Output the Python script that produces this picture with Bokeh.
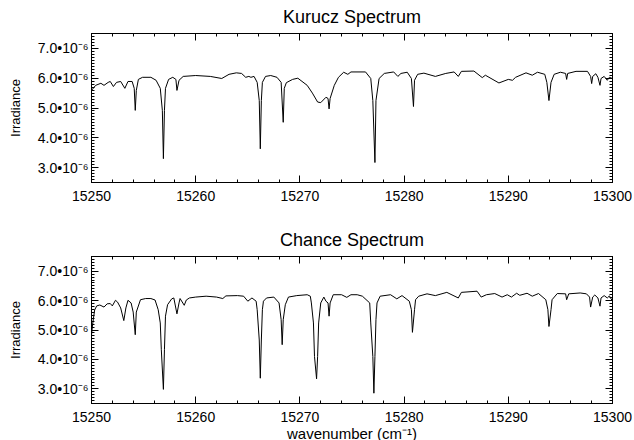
import numpy as np
from bokeh.plotting import figure
from bokeh.layouts import column
from bokeh.models import (ColumnDataSource, LinearAxis, SingleIntervalTicker,
                          CustomJSTickFormatter, CustomLabelingPolicy, Range1d)
from bokeh.embed import file_html
from bokeh.resources import INLINE

# ---- data (irradiance in units of 1e-6) ----
kurucz_wn = [15250.0, 15250.4, 15250.9, 15251.2, 15251.6, 15251.8, 15252.1, 15252.4, 15252.8, 15253.2,
             15253.5, 15253.9, 15254.1, 15254.2, 15254.3, 15254.5, 15254.9, 15255.7, 15256.2, 15256.6,
             15256.8, 15256.9, 15257.0, 15257.1, 15257.4, 15257.8, 15258.1, 15258.2, 15258.4, 15258.8,
             15260.0, 15261.4, 15262.5, 15263.2, 15263.9, 15264.4, 15264.8, 15265.1, 15265.3, 15265.6,
             15265.9, 15266.1, 15266.2, 15266.3, 15266.4, 15266.7, 15267.2, 15267.8, 15268.2, 15268.4,
             15268.5, 15268.7, 15269.3, 15269.8, 15270.7, 15271.2, 15271.7, 15272.0, 15272.5, 15272.7,
             15272.8, 15272.9, 15273.3, 15273.7, 15274.2, 15274.6, 15274.9, 15276.3, 15276.8, 15277.0,
             15277.2, 15277.3, 15277.6, 15278.1, 15279.0, 15279.4, 15279.7, 15280.3, 15280.7, 15280.9,
             15281.0, 15281.3, 15281.9, 15283.0, 15284.0, 15284.8, 15285.2, 15285.5, 15286.7, 15287.5,
             15287.8, 15289.1, 15290.0, 15290.4, 15290.7, 15291.7, 15292.3, 15292.8, 15293.5, 15293.7,
             15293.9, 15294.1, 15294.4, 15295.0, 15295.5, 15295.6, 15295.7, 15296.5, 15297.6, 15297.9,
             15298.0, 15298.1, 15298.4, 15298.6, 15298.8, 15298.9, 15299.2, 15299.5, 15299.7, 15300.0]
kurucz_irr = [5.59, 5.76, 5.83, 5.76, 5.86, 5.89, 5.72, 5.86, 5.89, 5.66,
              5.89, 5.89, 5.66, 4.92, 5.59, 5.96, 6.03, 6.03, 5.93, 5.66,
              4.92, 3.30, 4.92, 5.66, 5.96, 6.03, 5.96, 5.59, 5.93, 6.06,
              6.09, 6.06, 5.99, 6.13, 6.18, 6.16, 6.03, 6.06, 6.03, 6.06,
              5.86, 5.25, 3.63, 5.25, 5.86, 6.06, 6.09, 6.03, 5.86, 4.52,
              5.66, 5.85, 5.96, 6.00, 5.76, 5.50, 5.20, 5.18, 5.36, 5.32,
              4.97, 5.32, 5.76, 6.03, 6.20, 6.13, 6.21, 6.21, 5.99, 5.25,
              3.17, 5.25, 5.99, 6.16, 6.21, 6.06, 6.16, 6.20, 5.99, 5.05,
              5.93, 6.13, 6.17, 6.06, 6.16, 6.21, 6.06, 6.23, 6.24, 6.02,
              6.10, 5.84, 5.96, 5.93, 6.03, 6.18, 6.10, 6.20, 6.13, 5.86,
              5.25, 5.86, 6.13, 6.20, 6.16, 5.96, 6.16, 6.23, 6.23, 6.06,
              5.82, 6.06, 6.15, 6.03, 5.76, 5.99, 6.06, 5.93, 6.03, 5.99]

chance_wn = [15250.0, 15250.1, 15250.3, 15250.5, 15250.8, 15251.2, 15251.5, 15251.8, 15252.0, 15252.3,
             15252.5, 15252.8, 15253.1, 15253.3, 15253.5, 15253.8, 15254.0, 15254.2, 15254.3, 15254.7,
             15255.2, 15255.7, 15256.1, 15256.4, 15256.6, 15256.7, 15256.9, 15257.0, 15257.1, 15257.3,
             15257.7, 15257.9, 15258.2, 15258.4, 15258.5, 15258.9, 15259.1, 15259.4, 15260.0, 15261.0,
             15262.0, 15262.6, 15262.9, 15264.0, 15264.6, 15265.0, 15265.4, 15265.8, 15265.9, 15266.1,
             15266.2, 15266.3, 15266.4, 15266.5, 15266.8, 15267.5, 15268.0, 15268.2, 15268.3, 15268.4,
             15268.6, 15268.9, 15269.7, 15270.7, 15271.0, 15271.1, 15271.3, 15271.4, 15271.6, 15271.7,
             15271.8, 15272.0, 15272.3, 15272.5, 15272.7, 15272.8, 15272.9, 15273.2, 15274.0, 15274.5,
             15274.9, 15275.5, 15276.0, 15276.7, 15276.8, 15277.0, 15277.1, 15277.2, 15277.3, 15277.4,
             15277.7, 15278.7, 15279.3, 15279.8, 15280.5, 15280.7, 15280.8, 15281.0, 15281.1, 15281.4,
             15282.2, 15283.0, 15284.1, 15285.2, 15285.5, 15287.0, 15287.4, 15287.9, 15288.7, 15289.4,
             15289.9, 15290.3, 15290.8, 15291.1, 15291.8, 15292.3, 15292.9, 15293.6, 15293.8, 15293.9,
             15294.1, 15294.2, 15294.7, 15295.5, 15295.6, 15295.8, 15296.9, 15297.5, 15297.8, 15297.9,
             15298.1, 15298.3, 15298.6, 15298.8, 15298.9, 15299.2, 15299.5, 15299.7, 15300.0]
chance_irr = [4.83, 5.17, 5.68, 5.82, 5.85, 5.78, 5.89, 5.90, 5.82, 6.01,
              5.95, 5.75, 5.32, 5.75, 6.01, 5.92, 5.61, 4.84, 5.61, 6.03,
              6.07, 6.07, 6.02, 5.69, 5.24, 4.33, 2.98, 4.33, 5.47, 5.86,
              6.06, 6.09, 5.55, 5.92, 6.07, 5.84, 6.02, 6.09, 6.12, 6.15,
              6.12, 6.07, 6.16, 6.17, 6.15, 5.98, 6.09, 5.98, 5.69, 4.66,
              3.36, 4.66, 5.69, 5.98, 6.09, 6.12, 5.92, 5.35, 4.50, 5.35,
              5.86, 6.12, 6.17, 6.20, 6.15, 5.92, 5.24, 4.10, 3.34, 4.10,
              5.24, 5.92, 6.12, 5.98, 5.92, 5.47, 5.92, 6.20, 6.20, 6.11,
              6.20, 6.20, 6.15, 5.92, 5.24, 4.10, 2.85, 4.10, 5.35, 5.92,
              6.15, 6.20, 6.06, 6.17, 5.98, 5.69, 4.92, 5.69, 6.03, 6.15,
              6.23, 6.17, 6.28, 6.09, 6.28, 6.32, 6.12, 6.20, 6.24, 6.12,
              6.20, 6.12, 6.25, 6.18, 6.25, 6.15, 6.24, 6.03, 5.69, 5.12,
              5.69, 6.03, 6.24, 6.23, 6.03, 6.23, 6.26, 6.23, 6.12, 5.78,
              6.12, 6.19, 6.09, 5.81, 6.09, 6.17, 6.09, 6.16, 5.98]

x_range = (15250, 15300)
y_range = (2.5, 7.5)       # units of 1e-6
x_tick_step = 10
y_tick_step = 1.0          # units of 1e-6

FONT = "Liberation Sans"
fmt_y = CustomJSTickFormatter(code="return (tick*1e6).toFixed(1) + '\\u2022' + '10\\u207b\\u2076';")


def style_axis(ax, show_labels):
    ax.major_tick_in = 7
    ax.major_tick_out = 0
    ax.minor_tick_in = 3
    ax.minor_tick_out = 0
    ax.axis_line_color = "black"
    ax.major_tick_line_color = "black"
    ax.minor_tick_line_color = "black"
    ax.major_label_text_font = FONT
    ax.major_label_text_color = "black"
    ax.axis_label_text_font = FONT
    ax.axis_label_text_font_style = "normal"
    ax.axis_label_text_color = "black"
    if not show_labels:
        ax.major_label_policy = CustomLabelingPolicy(
            code="for (const i of indices) { if (i < 0) { yield i } }")
        ax.major_label_text_font_size = "1px"
        ax.major_label_standoff = 0


def panel(title, wn, irr, top_border, bottom_border, frame_h, xlabel=None):
    p = figure(width=632, frame_width=521, frame_height=frame_h,
               x_range=Range1d(*x_range),
               y_range=Range1d(y_range[0] * 1e-6, y_range[1] * 1e-6),
               output_backend="svg", toolbar_location=None,
               min_border_left=91, min_border_right=20,
               min_border_top=top_border, min_border_bottom=bottom_border,
               x_axis_location=None, y_axis_location=None)
    p.xgrid.visible = False
    p.ygrid.visible = False
    p.outline_line_color = "black"
    p.background_fill_color = "white"
    p.border_fill_color = "white"

    xt = lambda: SingleIntervalTicker(interval=x_tick_step, num_minor_ticks=5)
    yt = lambda: SingleIntervalTicker(interval=y_tick_step * 1e-6, num_minor_ticks=10)

    xb = LinearAxis(ticker=xt())
    style_axis(xb, True)
    xb.major_label_text_font_size = "14px"
    xb.major_label_standoff = 8
    if xlabel:
        xb.axis_label = xlabel
        xb.axis_label_text_font_size = "15px"
        xb.axis_label_standoff = 0
    p.add_layout(xb, "below")

    xa = LinearAxis(ticker=xt())
    style_axis(xa, False)
    p.add_layout(xa, "above")

    yl = LinearAxis(ticker=yt(), formatter=fmt_y)
    style_axis(yl, True)
    yl.major_label_text_font_size = "14px"
    yl.major_label_standoff = 3
    yl.axis_label = "Irradiance"
    yl.axis_label_text_font_size = "13px"
    yl.axis_label_standoff = 12
    p.add_layout(yl, "left")

    yr = LinearAxis(ticker=yt())
    style_axis(yr, False)
    p.add_layout(yr, "right")

    p.title.text = title
    p.title.align = "center"
    p.title.text_font = FONT
    p.title.text_font_size = "18px"
    p.title.text_font_style = "normal"
    p.title.text_color = "black"
    p.title.standoff = 6

    src = ColumnDataSource(dict(x=wn, y=np.array(irr) * 1e-6))
    p.line("x", "y", source=src, line_color="black", line_width=1)
    return p


p1 = panel("Kurucz Spectrum", kurucz_wn, kurucz_irr, 33, 36, 149)
p2 = panel("Chance Spectrum", chance_wn, chance_irr, 38, 37, 147,
           xlabel="wavenumber (cm\u207b\u00b9)")

layout = column(p1, p2, spacing=0)

open("out.html", "w").write(file_html(layout, INLINE))
